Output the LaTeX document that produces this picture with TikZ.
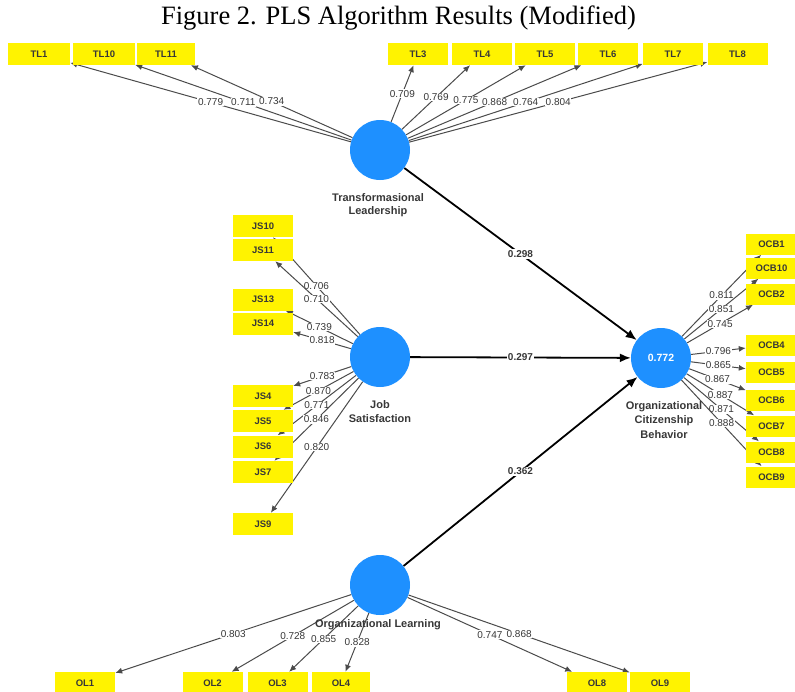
\documentclass[tikz,border=0pt]{standalone}
\usepackage{fontspec}
\setmainfont{Liberation Serif}
\setsansfont{Liberation Sans}
\usetikzlibrary{arrows.meta}
\pgfdeclarelayer{bg}
\pgfsetlayers{bg,main}
\definecolor{lvblue}{RGB}{30,144,255}
\definecolor{indyellow}{RGB}{255,243,0}
\definecolor{txtgray}{RGB}{55,55,55}
\definecolor{lgray}{RGB}{75,75,75}
\tikzset{
  lv/.style={circle, fill=lvblue, minimum size=60pt, inner sep=0pt},
  ind/.style={fill=indyellow, minimum width=60pt, minimum height=22pt, inner sep=0pt,
    font=\sffamily\bfseries\fontsize{9.5}{10}\selectfont, text=txtgray},
  ocbind/.style={ind, minimum width=51pt, minimum height=21pt},
  lvlabel/.style={font=\sffamily\bfseries\fontsize{11}{13.5}\selectfont, text=txtgray, align=center},
  ld/.style={draw=lgray, line width=1pt, -{Latex[length=7pt,width=6pt]}},
  ldl/.style={fill=white, inner sep=0.6pt, font=\sffamily\fontsize{10}{10}\selectfont, text=txtgray},
  pth/.style={draw=black, line width=1.8pt, -{Latex[length=11pt,width=9pt]}},
  pthl/.style={fill=white, inner sep=1pt, font=\sffamily\bfseries\fontsize{10}{10}\selectfont, text=txtgray},
}
\begin{document}
\begin{tikzpicture}[x=1pt,y=-1pt]
\useasboundingbox (0,0) rectangle (795,691);
% title
\node[font=\fontsize{26.5}{30}\selectfont] (title) at (398.5,18) {Figure 2. PLS Algorithm Results (Modified)};
% latent variables
\node[lv] (TL) at (380,150) {};
\node[lv] (JS) at (380,357) {};
\node[lv] (OCB) at (661,358) {\sffamily\bfseries\fontsize{10.5}{11}\selectfont\color{white}0.772};
\node[lv] (OL) at (380,585) {};
\node[lvlabel] (TLl) at (378,205) {Transformasional\\Leadership};
\node[lvlabel] (JSl) at (380,411.5) {Job\\Satisfaction};
\node[lvlabel, font=\sffamily\bfseries\fontsize{11}{14.5}\selectfont] (OCBl) at (664,420) {Organizational\\Citizenship\\Behavior};
\node[lvlabel] (OLl) at (378,625) {Organizational Learning};
% TL indicators
\node[ind, minimum width=62pt] (TL1) at (39,54) {TL1};
\node[ind, minimum width=62pt] (TL10) at (104,54) {TL10};
\node[ind, minimum width=58pt] (TL11) at (166,54) {TL11};
\node[ind] (TL3) at (418,54) {TL3};
\node[ind] (TL4) at (482,54) {TL4};
\node[ind] (TL5) at (545,54) {TL5};
\node[ind] (TL6) at (608,54) {TL6};
\node[ind] (TL7) at (673,54) {TL7};
\node[ind] (TL8) at (737.5,54) {TL8};
% JS indicators
\node[ind] (JS10) at (263,226) {JS10};
\node[ind] (JS11) at (263,250) {JS11};
\node[ind] (JS13) at (263,299.5) {JS13};
\node[ind] (JS14) at (263,323.5) {JS14};
\node[ind] (JS4) at (263,396) {JS4};
\node[ind] (JS5) at (263,421) {JS5};
\node[ind] (JS6) at (263,446.5) {JS6};
\node[ind] (JS7) at (263,472) {JS7};
\node[ind] (JS9) at (263,524) {JS9};
% OCB indicators
\node[ocbind] (OCB1) at (771.5,244) {OCB1};
\node[ocbind] (OCB10) at (771.5,268) {OCB10};
\node[ocbind] (OCB2) at (771.5,294) {OCB2};
\node[ocbind] (OCB4) at (771.5,345) {OCB4};
\node[ocbind] (OCB5) at (771.5,372) {OCB5};
\node[ocbind] (OCB6) at (771.5,400) {OCB6};
\node[ocbind] (OCB7) at (771.5,426) {OCB7};
\node[ocbind] (OCB8) at (771.5,452) {OCB8};
\node[ocbind] (OCB9) at (771.5,477) {OCB9};
% OL indicators
\node[ind] (OL1) at (85,683) {OL1};
\node[ind] (OL2) at (212.5,683) {OL2};
\node[ind] (OL3) at (277.5,683) {OL3};
\node[ind, minimum width=58pt] (OL4) at (341,683) {OL4};
\node[ind] (OL8) at (597,683) {OL8};
\node[ind] (OL9) at (660,683) {OL9};
\begin{pgfonlayer}{bg}
% TL loadings
\draw[ld] (TL) -- node[ldl]{0.779} (TL1);
\draw[ld] (TL) -- node[ldl]{0.711} (TL10);
\draw[ld] (TL) -- node[ldl]{0.734} (TL11);
\draw[ld] (TL) -- node[ldl]{0.709} (TL3);
\draw[ld] (TL) -- node[ldl]{0.769} (TL4);
\draw[ld] (TL) -- node[ldl]{0.775} (TL5);
\draw[ld] (TL) -- node[ldl]{0.868} (TL6);
\draw[ld] (TL) -- node[ldl]{0.764} (TL7);
\draw[ld] (TL) -- node[ldl]{0.804} (TL8);
% JS loadings
\draw[ld] (JS) -- node[ldl]{0.706} (JS10);
\draw[ld] (JS) -- node[ldl]{0.710} (JS11);
\draw[ld] (JS) -- node[ldl]{0.739} (JS13);
\draw[ld] (JS) -- node[ldl]{0.818} (JS14);
\draw[ld] (JS) -- node[ldl]{0.783} (JS4);
\draw[ld] (JS) -- node[ldl]{0.870} (JS5);
\draw[ld] (JS) -- node[ldl]{0.771} (JS6);
\draw[ld] (JS) -- node[ldl]{0.846} (JS7);
\draw[ld] (JS) -- node[ldl]{0.820} (JS9);
% OCB loadings
\draw[ld] (OCB) -- node[ldl]{0.811} (OCB1);
\draw[ld] (OCB) -- node[ldl]{0.851} (OCB10);
\draw[ld] (OCB) -- node[ldl]{0.745} (OCB2);
\draw[ld] (OCB) -- node[ldl]{0.796} (OCB4);
\draw[ld] (OCB) -- node[ldl]{0.865} (OCB5);
\draw[ld] (OCB) -- node[ldl]{0.867} (OCB6);
\draw[ld] (OCB) -- node[ldl]{0.887} (OCB7);
\draw[ld] (OCB) -- node[ldl]{0.871} (OCB8);
\draw[ld] (OCB) -- node[ldl]{0.888} (OCB9);
% OL loadings
\draw[ld] (OL) -- node[ldl]{0.803} (OL1);
\draw[ld] (OL) -- node[ldl]{0.728} (OL2);
\draw[ld] (OL) -- node[ldl]{0.855} (OL3);
\draw[ld] (OL) -- node[ldl]{0.828} (OL4);
\draw[ld] (OL) -- node[ldl]{0.747} (OL8);
\draw[ld] (OL) -- node[ldl]{0.868} (OL9);
% structural paths
\draw[pth] (TL) -- node[pthl]{0.298} (OCB);
\draw[pth] (JS) -- node[pthl]{0.297} (OCB);
\draw[pth] (OL) -- node[pthl]{0.362} (OCB);
\end{pgfonlayer}
\end{tikzpicture}
\end{document}
